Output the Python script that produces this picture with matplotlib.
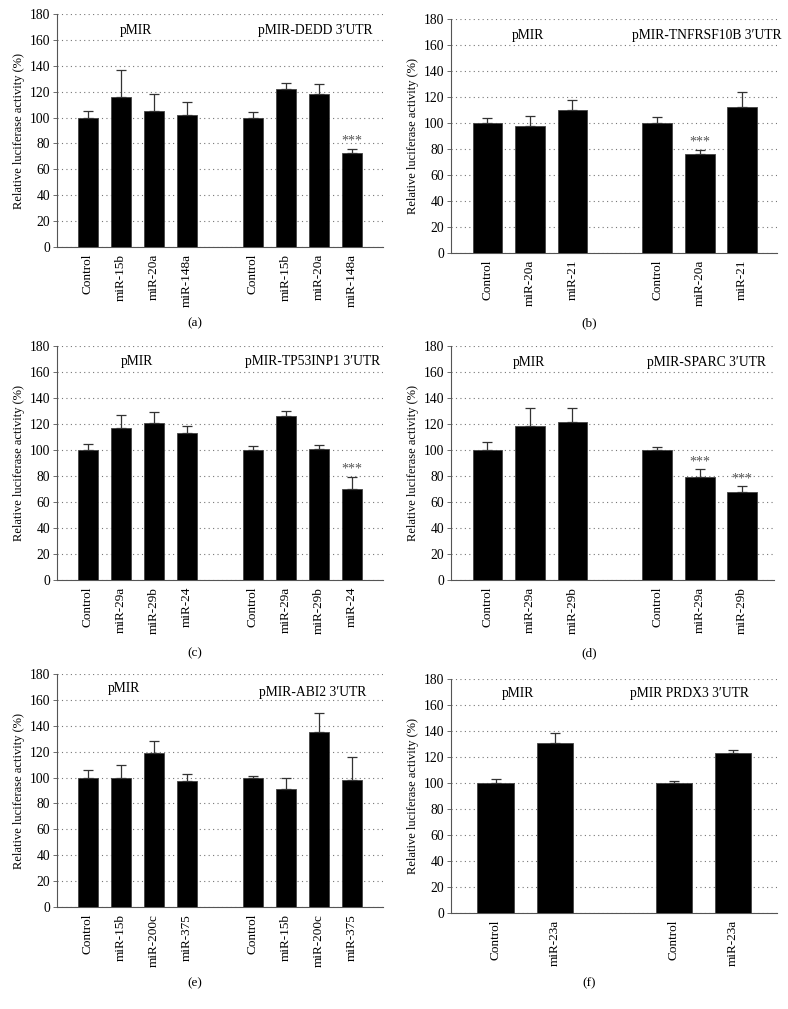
import matplotlib.pyplot as plt
import numpy as np

plt.rcParams['font.family'] = ['Liberation Serif', 'DejaVu Serif']

# ---- data ----
# (a)
a_labels = ['Control', 'miR-15b', 'miR-20a', 'miR-148a'] * 2
a_values = [100, 116, 105, 102, 100, 122, 118, 73]
a_err = [5, 21, 13, 10, 4, 5, 8, 3]
a_pos = [0, 1, 2, 3, 5, 6, 7, 8]
a_stars = [7]
a_titles = ['pMIR', "pMIR-DEDD 3\u2032UTR"]

# (b)
b_labels = ['Control', 'miR-20a', 'miR-21'] * 2
b_values = [100, 98, 110, 100, 76, 112]
b_err = [4, 7, 7.5, 4.5, 3.5, 11.5]
b_pos = [0, 1, 2, 4, 5, 6]
b_stars = [4]
b_titles = ['pMIR', "pMIR-TNFRSF10B 3\u2032UTR"]

# (c)
c_labels = ['Control', 'miR-29a', 'miR-29b', 'miR-24'] * 2
c_values = [100, 117, 121, 113, 100, 126, 101, 70]
c_err = [4.5, 10, 8.5, 5.5, 3, 4, 3, 9.5]
c_pos = [0, 1, 2, 3, 5, 6, 7, 8]
c_stars = [7]
c_titles = ['pMIR', "pMIR-TP53INP1 3\u2032UTR"]

# (d)
d_labels = ['Control', 'miR-29a', 'miR-29b'] * 2
d_values = [100, 118.5, 121.5, 100, 79.5, 68]
d_err = [6.5, 14, 10.5, 2, 5.5, 4]
d_pos = [0, 1, 2, 4, 5, 6]
d_stars = [4, 5]
d_titles = ['pMIR', "pMIR-SPARC 3\u2032UTR"]

# (e)
e_labels = ['Control', 'miR-15b', 'miR-200c', 'miR-375'] * 2
e_values = [100, 99.5, 119, 97.5, 100, 91, 135, 98]
e_err = [5.5, 10, 9, 5, 1.5, 8.5, 15, 18]
e_pos = [0, 1, 2, 3, 5, 6, 7, 8]
e_stars = []
e_titles = ['pMIR', "pMIR-ABI2 3\u2032UTR"]

# (f)
f_labels = ['Control', 'miR-23a'] * 2
f_values = [100, 131, 100, 123]
f_err = [3.5, 7.5, 1.5, 2.5]
f_pos = [0, 1, 3, 4]
f_stars = []
f_titles = ['pMIR', "pMIR PRDX3 3\u2032UTR"]

fig = plt.figure(figsize=(7.88, 10.09), dpi=100)


def panel(rect, pos, values, err, labels, stars, titles, title_x, title_y, width, xlim, caption, cap_xy):
    ax = fig.add_axes(rect)
    pos = np.array(pos)
    ax.bar(pos, values, width=width, color='black', edgecolor='#444444', linewidth=0.6, zorder=3)
    lower = np.zeros(len(values))
    ax.errorbar(pos, values, yerr=[lower, err], fmt='none', ecolor='#333333',
                elinewidth=0.9, capsize=3.5, capthick=0.9, zorder=4)
    for i in stars:
        ax.text(pos[i], values[i] + err[i] + 0.5, '***', ha='center', va='bottom',
                fontsize=10, color='#555555')
    ax.text(title_x[0], title_y[0], titles[0], ha='center', va='center', fontsize=9.8)
    ax.text(title_x[1], title_y[1], titles[1], ha='center', va='center', fontsize=9.8)
    ax.set_ylim(0, 180)
    ax.set_yticks(np.arange(0, 181, 20))
    ax.set_xlim(*xlim)
    ax.set_xticks(pos)
    ax.set_xticklabels(labels, rotation=90, fontsize=9.5)
    ax.tick_params(axis='x', length=0, pad=5)
    ax.tick_params(axis='y', labelsize=9.8, length=3, width=0.6, color='#555555', pad=2)
    ax.yaxis.grid(True, linestyle=(0, (1, 3)), color='#777777', linewidth=0.8)
    ax.set_axisbelow(True)
    for s in ['top', 'right']:
        ax.spines[s].set_visible(False)
    for s in ['left', 'bottom']:
        ax.spines[s].set_color('#555555')
        ax.spines[s].set_linewidth(0.8)
    ax.set_ylabel('Relative luciferase activity (%)', fontsize=9, labelpad=3)
    fig.text(cap_xy[0], cap_xy[1], caption, ha='center', va='center', fontsize=9.5)
    return ax


panel([0.0723, 0.7552, 0.4137, 0.2309], a_pos, a_values, a_err, a_labels, a_stars, a_titles,
      [1.45, 6.9], [167.5, 167.5], 0.6, (-0.94, 8.94), '(a)', (0.2475, 1 - 323 / 1009))
panel([0.5723, 0.7493, 0.4137, 0.2319], b_pos, b_values, b_err, b_labels, b_stars, b_titles,
      [0.95, 5.16], [167.5, 167.5], 0.7, (-0.86, 6.82), '(b)', (0.7475, 1 - 323 / 1009))
panel([0.0723, 0.4252, 0.4137, 0.2319], c_pos, c_values, c_err, c_labels, c_stars, c_titles,
      [1.48, 6.8], [168, 168], 0.6, (-0.94, 8.94), '(c)', (0.2475, 1 - 653 / 1009))
panel([0.5723, 0.4252, 0.4099, 0.2319], d_pos, d_values, d_err, d_labels, d_stars, d_titles,
      [0.98, 5.16], [167, 167], 0.7, (-0.86, 6.75), '(d)', (0.7475, 1 - 653 / 1009))
panel([0.0723, 0.1011, 0.4137, 0.2309], e_pos, e_values, e_err, e_labels, e_stars, e_titles,
      [1.1, 6.8], [169, 166], 0.6, (-0.94, 8.94), '(e)', (0.2475, 1 - 983 / 1009))
panel([0.5723, 0.0951, 0.4137, 0.2319], f_pos, f_values, f_err, f_labels, f_stars, f_titles,
      [0.38, 3.27], [168.8, 168.8], 0.61, (-0.75, 4.74), '(f)', (0.7475, 1 - 983 / 1009))

plt.savefig('out.png', dpi=100)
